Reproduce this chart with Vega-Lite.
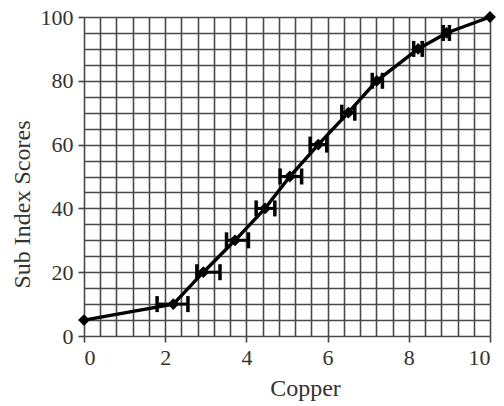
{
  "$schema": "https://vega.github.io/schema/vega-lite/v6.json",
  "width": 406,
  "height": 319,
  "autosize": "none",
  "padding": {"left": 84, "top": 17, "right": 14, "bottom": 70},
  "background": "white",
  "config": {
    "view": {"stroke": null},
    "font": "Liberation Serif",
    "axis": {
      "gridColor": "#4a4a4a",
      "gridWidth": 1.6,
      "gridOpacity": 1,
      "domain": false,
      "tickColor": "#444444",
      "tickWidth": 1.6,
      "tickSize": 6,
      "tickCount": 200,
      "labelOverlap": false,
      "labelFont": "Liberation Serif",
      "labelFontSize": 22,
      "labelColor": "#333333",
      "labelPadding": 5,
      "titleFont": "Liberation Serif",
      "titleFontSize": 24,
      "titleFontWeight": "normal",
      "titleColor": "#333333"
    }
  },
  "data": {
    "values": [
      {"copper": 0, "score": 5, "lo": null, "hi": null},
      {"copper": 2.2, "score": 10, "lo": 1.8, "hi": 2.56},
      {"copper": 2.94, "score": 20, "lo": 2.78, "hi": 3.35},
      {"copper": 3.72, "score": 30, "lo": 3.51, "hi": 4.05},
      {"copper": 4.46, "score": 40, "lo": 4.24, "hi": 4.7},
      {"copper": 5.07, "score": 50, "lo": 4.83, "hi": 5.36},
      {"copper": 5.77, "score": 60, "lo": 5.57, "hi": 5.98},
      {"copper": 6.51, "score": 70, "lo": 6.35, "hi": 6.67},
      {"copper": 7.21, "score": 80, "lo": 7.1, "hi": 7.35},
      {"copper": 8.23, "score": 90, "lo": 8.12, "hi": 8.33},
      {"copper": 8.93, "score": 95, "lo": 8.85, "hi": 9.0},
      {"copper": 10, "score": 100, "lo": null, "hi": null}
    ]
  },
  "layer": [
    {
      "mark": {"type": "line", "color": "black", "strokeWidth": 3.4, "interpolate": "linear"},
      "encoding": {
        "x": {
          "field": "copper",
          "type": "quantitative",
          "scale": {"domain": [0, 10], "nice": false},
          "axis": {
            "title": "Copper",
            "values": [0, 0.4, 0.8, 1.2, 1.6, 2, 2.4, 2.8, 3.2, 3.6, 4, 4.4, 4.8, 5.2, 5.6, 6, 6.4, 6.8, 7.2, 7.6, 8, 8.4, 8.8, 9.2, 9.6, 10],
            "labelExpr": "datum.value % 2 === 0 ? '' + datum.value : ''",
            "tickOpacity": {"condition": {"test": "datum.value % 2 === 0", "value": 1}, "value": 0},
            "titlePadding": 8,
            "titleX": 221
          }
        },
        "y": {
          "field": "score",
          "type": "quantitative",
          "scale": {"domain": [0, 100], "nice": false},
          "axis": {
            "title": "Sub Index Scores",
            "values": [0, 5, 10, 15, 20, 25, 30, 35, 40, 45, 50, 55, 60, 65, 70, 75, 80, 85, 90, 95, 100],
            "labelExpr": "datum.value % 20 === 0 ? '' + datum.value : ''",
            "tickOpacity": {"condition": {"test": "datum.value % 20 === 0", "value": 1}, "value": 0},
            "titlePadding": 6,
            "titleY": 187
          }
        }
      }
    },
    {
      "transform": [{"filter": "isValid(datum.lo)"}],
      "mark": {"type": "rule", "color": "black", "strokeWidth": 3},
      "encoding": {
        "x": {"field": "lo", "type": "quantitative"},
        "x2": {"field": "hi"},
        "y": {"field": "score", "type": "quantitative"}
      }
    },
    {
      "transform": [{"filter": "isValid(datum.lo)"}],
      "mark": {"type": "tick", "color": "black", "orient": "vertical", "size": 16, "thickness": 3.5, "opacity": 1},
      "encoding": {
        "x": {"field": "lo", "type": "quantitative"},
        "y": {"field": "score", "type": "quantitative"}
      }
    },
    {
      "transform": [{"filter": "isValid(datum.hi)"}],
      "mark": {"type": "tick", "color": "black", "orient": "vertical", "size": 16, "thickness": 3.5, "opacity": 1},
      "encoding": {
        "x": {"field": "hi", "type": "quantitative"},
        "y": {"field": "score", "type": "quantitative"}
      }
    },
    {
      "mark": {"type": "point", "shape": "diamond", "filled": true, "color": "black", "size": 140, "opacity": 1},
      "encoding": {
        "x": {"field": "copper", "type": "quantitative"},
        "y": {"field": "score", "type": "quantitative"}
      }
    }
  ]
}
